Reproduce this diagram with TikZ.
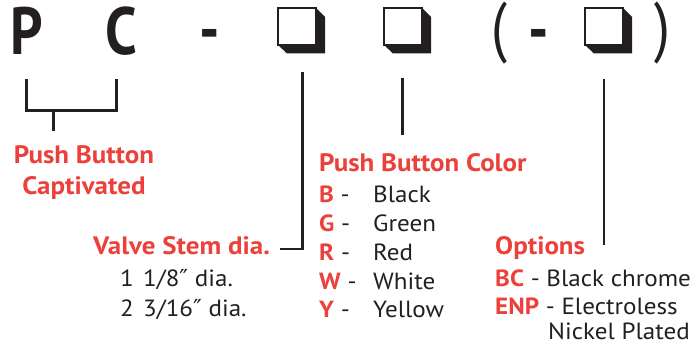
\documentclass[tikz,border=0pt]{standalone}
\usepackage{fontspec}
\setmainfont{PT Sans}[FakeStretch=1.07]
\newfontfamily\bigfont[FakeStretch=0.85]{PT Sans}
\newfontfamily\symfont{DejaVu Sans}
\usepackage{tikz}
\usetikzlibrary{positioning,calc}
\usepackage{xcolor}

\definecolor{accent}{RGB}{236,64,58}
\definecolor{ink}{RGB}{35,31,32}

\newcommand{\inch}{{\symfont ″}}

\tikzset{
  lead/.style={ink, line width=2.2pt},
  head/.style={accent, font=\fontsize{21.5}{27.2}\selectfont\bfseries, inner sep=0pt},
  item/.style={ink, font=\fontsize{20}{24}\selectfont, inner sep=0pt, anchor=base west},
  glyph/.style={ink, font=\bigfont\fontsize{57}{60}\selectfont\bfseries, inner sep=0pt, anchor=base}
}

\begin{document}
\begin{tikzpicture}[x=0.03cm, y=-0.03cm]
                    \useasboundingbox (0,0) rectangle (694,348);

                    % Part code along the top
                    \node[glyph] (letterP) at (26.7,54.5) {P};
                    \node[glyph] (letterC) at (121,54.5) {C};
                    \node[glyph] (dashA) at (209.5,53) {-};
                    \node[glyph, font=\bigfont\fontsize{57}{60}\selectfont] (parenL) at (499,50) {(};
                    \node[glyph] (dashB) at (538.5,53) {-};
                    \node[glyph, font=\bigfont\fontsize{57}{60}\selectfont] (parenR) at (662,50) {)};

                    % Shadowed boxes
                    \foreach \bx/\nm in {278/boxA, 384/boxB, 585/boxC}{
                        \fill[ink] (\bx+38,8) -- (\bx+47,17) -- (\bx+47,53.5)
                            -- (\bx+9,53.5) -- (\bx,45) -- (\bx+38,45) -- cycle;
                        \draw[ink, fill=white, line width=0.9pt] (\bx,8) rectangle (\bx+38,45);
                        \coordinate (\nm) at (\bx+23.5,30);
                    }

                    % Push Button Captivated
                    \node[head, align=center, anchor=base] (captHead) at (84,195)
                        {Push Button\\Captivated};

                    % Valve Stem dia.
                    \node[head, anchor=base west] (stemHead) at (93,255) {Valve Stem dia.};
                    \node[item] (stemA) at (120,287) {1};
                    \node[item] (stemAtxt) at (143,287) {1/8\inch\ dia.};
                    \node[item] (stemB) at (120,317) {2};
                    \node[item] (stemBtxt) at (143,317) {3/16\inch\ dia.};

                    % Push Button Color
                    \node[head, anchor=base west] (colorHead) at (319,172) {Push Button Color};
                    \foreach \k/\name [count=\i] in {B/Black, G/Green, R/Red, W/White, Y/Yellow}{
                        \node[item] (colKey\i) at (319,{203+28.7*(\i-1)})
                            {{\color{accent}\bfseries\k} -};
                        \node[item] (colName\i) at (373,{203+28.7*(\i-1)}) {\name};
                    }

                    % Options
                    \node[head, anchor=base west] (optHead) at (495,255) {Options};
                    \node[item] (optBC) at (495,287) {{\color{accent}\bfseries BC} - Black chrome};
                    \node[item] (optENP) at (495,315) {{\color{accent}\bfseries ENP} - Electroless};
                    \node[item] (optENPb) at (548,340) {Nickel Plated};

                    % Leader lines
                    \coordinate (pFoot) at (26.7,79.3);
                    \coordinate (cFoot) at (116.7,79.3);
                    \coordinate (pcJoin) at (53.3,110.7);
                    \coordinate (captTip) at (53.3,130.7);
                    \draw[lead] (pFoot) |- (cFoot |- pcJoin) -- (cFoot);
                    \draw[lead] (pcJoin) -- (captTip);

                    \coordinate (boxAfoot) at (302.3,72.3);
                    \coordinate (stemTip) at (280,249);
                    \draw[lead] (boxAfoot) |- (stemTip);

                    \coordinate (boxBfoot) at (402.3,78.3);
                    \coordinate (colorTip) at (402.3,135);
                    \draw[lead] (boxBfoot) -- (colorTip);

                    \coordinate (boxCfoot) at (604,79.3);
                    \coordinate (optTip) at (604,245);
                    \draw[lead] (boxCfoot) -- (optTip);
                \end{tikzpicture}
\end{document}
